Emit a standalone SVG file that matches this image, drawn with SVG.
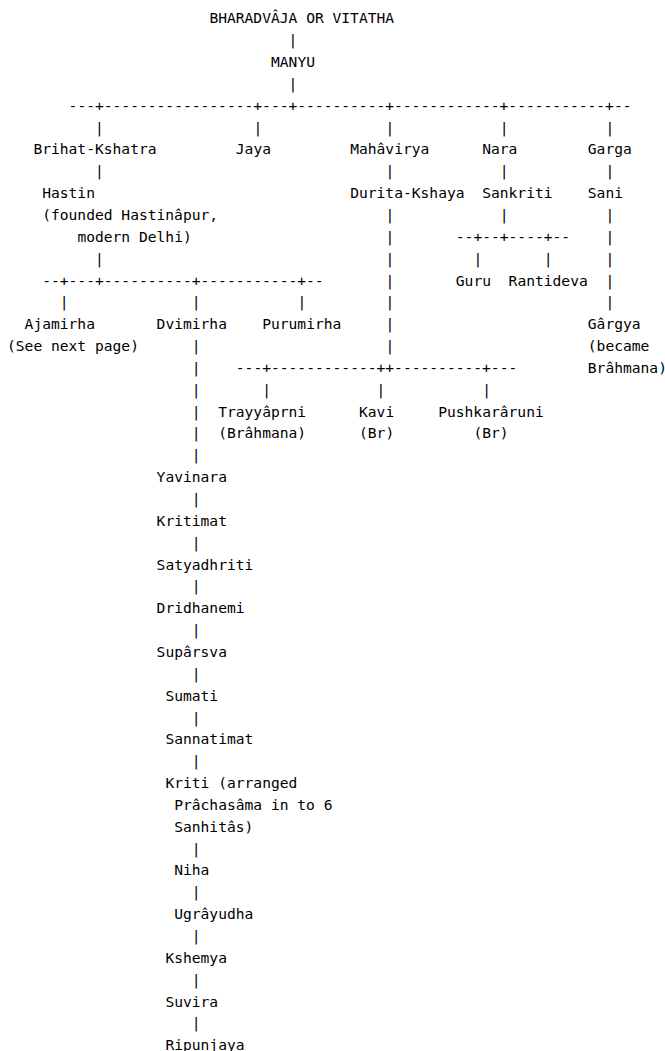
<svg xmlns="http://www.w3.org/2000/svg" width="665" height="1051" viewBox="0 0 665 1051">
<style>
text{font-family:"DejaVu Sans Mono",monospace;font-size:14.62px;fill:#000}
</style>
<rect width="665" height="1051" fill="#fff"/>
<g id="connectors">
<text x="288.6" y="45.15">|</text>
<text x="288.6" y="88.85">|</text>
<text x="68.6" y="110.7">---+-----------------+---+----------+------------+-----------+--</text>
<text x="95" y="132.55">|</text><text x="253.4" y="132.55">|</text><text x="385.4" y="132.55">|</text><text x="499.8" y="132.55">|</text><text x="605.4" y="132.55">|</text>
<text x="95" y="176.25">|</text><text x="385.4" y="176.25">|</text><text x="499.8" y="176.25">|</text><text x="605.4" y="176.25">|</text>
<text x="385.4" y="219.95">|</text><text x="499.8" y="219.95">|</text><text x="605.4" y="219.95">|</text>
<text x="385.4" y="241.8">|</text><text x="455.8" y="241.8">--+--+----+--</text><text x="605.4" y="241.8">|</text>
<text x="95" y="263.65">|</text><text x="385.4" y="263.65">|</text><text x="473.4" y="263.65">|</text><text x="543.8" y="263.65">|</text><text x="605.4" y="263.65">|</text>
<text x="42.2" y="285.5">--+---+----------+-----------+--</text><text x="385.4" y="285.5">|</text><text x="605.4" y="285.5">|</text>
<text x="59.8" y="307.35">|</text><text x="191.8" y="307.35">|</text><text x="297.4" y="307.35">|</text><text x="385.4" y="307.35">|</text><text x="605.4" y="307.35">|</text>
<text x="385.4" y="329.2">|</text>
<text x="191.8" y="351.05">|</text><text x="385.4" y="351.05">|</text>
<text x="191.8" y="372.9">|</text><text x="235.8" y="372.9">---+------------++----------+---</text>
<text x="191.8" y="394.75">|</text><text x="262.2" y="394.75">|</text><text x="376.6" y="394.75">|</text><text x="482.2" y="394.75">|</text>
<text x="191.8" y="416.6">|</text>
<text x="191.8" y="438.45">|</text>
<text x="191.8" y="460.3">|</text>
<text x="191.8" y="504">|</text>
<text x="191.8" y="547.7">|</text>
<text x="191.8" y="591.4">|</text>
<text x="191.8" y="635.1">|</text>
<text x="191.8" y="678.8">|</text>
<text x="191.8" y="722.5">|</text>
<text x="191.8" y="766.2">|</text>
<text x="191.8" y="853.6">|</text>
<text x="191.8" y="897.3">|</text>
<text x="191.8" y="941">|</text>
<text x="191.8" y="984.7">|</text>
<text x="191.8" y="1028.4">|</text>
</g>
<g id="bharadvaja"><text x="209.4" y="23.3">BHARADVÂJA OR VITATHA</text></g>
<g id="manyu"><text x="271" y="67">MANYU</text></g>
<g id="brihat-kshatra"><text x="33.4" y="154.4">Brihat-Kshatra</text></g>
<g id="jaya"><text x="235.8" y="154.4">Jaya</text></g>
<g id="mahavirya"><text x="350.2" y="154.4">Mahâvirya</text></g>
<g id="nara"><text x="482.2" y="154.4">Nara</text></g>
<g id="garga"><text x="587.8" y="154.4">Garga</text></g>
<g id="hastin"><text x="42.2" y="198.1">Hastin</text><text x="42.2" y="219.95">(founded Hastinâpur,</text><text x="77.4" y="241.8">modern Delhi)</text></g>
<g id="durita-kshaya"><text x="350.2" y="198.1">Durita-Kshaya</text></g>
<g id="sankriti"><text x="482.2" y="198.1">Sankriti</text></g>
<g id="sani"><text x="587.8" y="198.1">Sani</text></g>
<g id="guru"><text x="455.8" y="285.5">Guru</text></g>
<g id="rantideva"><text x="508.6" y="285.5">Rantideva</text></g>
<g id="ajamirha"><text x="24.6" y="329.2">Ajamirha</text><text x="7" y="351.05">(See next page)</text></g>
<g id="dvimirha"><text x="156.6" y="329.2">Dvimirha</text></g>
<g id="purumirha"><text x="262.2" y="329.2">Purumirha</text></g>
<g id="gargya"><text x="587.8" y="329.2">Gârgya</text><text x="587.8" y="351.05">(became</text><text x="587.8" y="372.9">Brâhmana)</text></g>
<g id="trayyaprni"><text x="218.2" y="416.6">Trayyâprni</text><text x="218.2" y="438.45">(Brâhmana)</text></g>
<g id="kavi"><text x="359" y="416.6">Kavi</text><text x="359" y="438.45">(Br)</text></g>
<g id="pushkararuni"><text x="438.2" y="416.6">Pushkarâruni</text><text x="473.4" y="438.45">(Br)</text></g>
<g id="yavinara"><text x="156.6" y="482.15">Yavinara</text></g>
<g id="kritimat"><text x="156.6" y="525.85">Kritimat</text></g>
<g id="satyadhriti"><text x="156.6" y="569.55">Satyadhriti</text></g>
<g id="dridhanemi"><text x="156.6" y="613.25">Dridhanemi</text></g>
<g id="suparsva"><text x="156.6" y="656.95">Supârsva</text></g>
<g id="sumati"><text x="165.4" y="700.65">Sumati</text></g>
<g id="sannatimat"><text x="165.4" y="744.35">Sannatimat</text></g>
<g id="kriti"><text x="165.4" y="788.05">Kriti (arranged</text><text x="174.2" y="809.9">Prâchasâma in to 6</text><text x="174.2" y="831.75">Sanhitâs)</text></g>
<g id="niha"><text x="174.2" y="875.45">Niha</text></g>
<g id="ugrayudha"><text x="174.2" y="919.15">Ugrâyudha</text></g>
<g id="kshemya"><text x="165.4" y="962.85">Kshemya</text></g>
<g id="suvira"><text x="165.4" y="1006.55">Suvira</text></g>
<g id="ripunjaya"><text x="165.4" y="1050.25">Ripunjaya</text></g>
</svg>
